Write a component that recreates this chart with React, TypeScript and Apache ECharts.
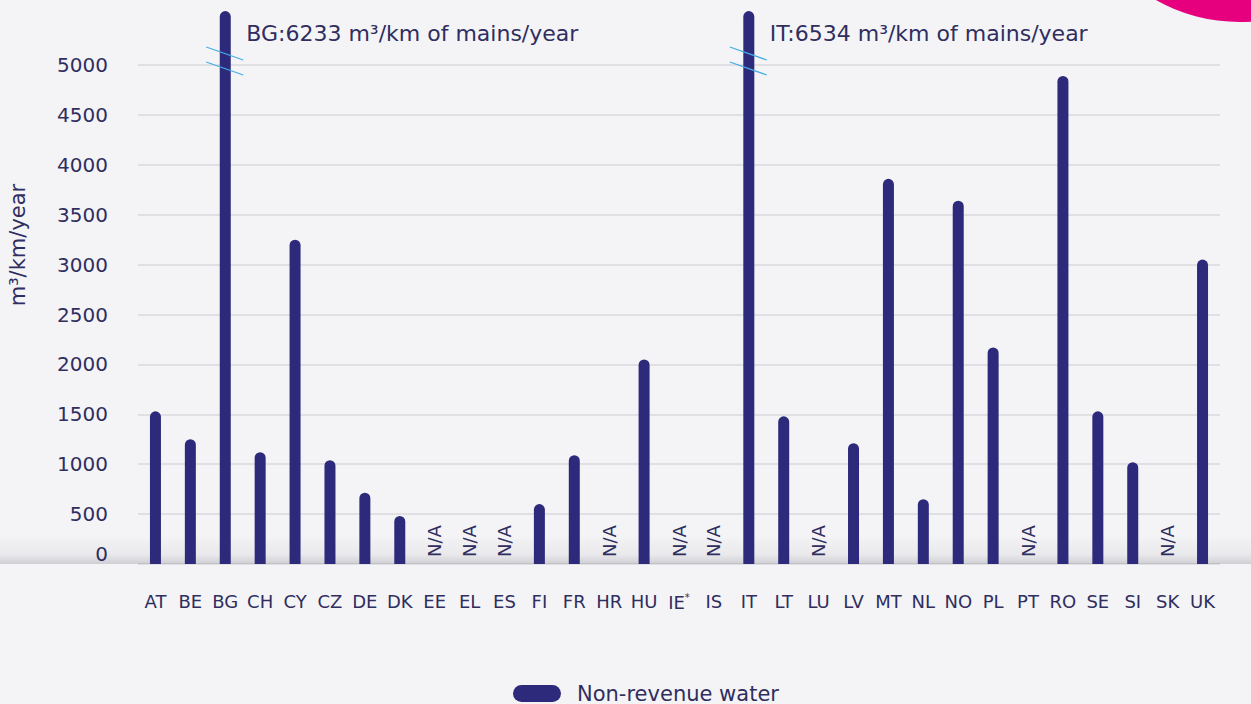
import React, { useEffect, useRef } from 'react';
import * as echarts from 'echarts';

const categories = ['AT', 'BE', 'BG', 'CH', 'CY', 'CZ', 'DE', 'DK', 'EE', 'EL', 'ES', 'FI', 'FR', 'HR', 'HU', 'IE*', 'IS', 'IT', 'LT', 'LU', 'LV', 'MT', 'NL', 'NO', 'PL', 'PT', 'RO', 'SE', 'SI', 'SK', 'UK'];
const nonRevenueWater: (number | null)[] = [1530, 1250, 6233, 1120, 3250, 1040, 715, 482, null, null, null, 600, 1090, null, 2050, null, null, 6534, 1480, null, 1210, 3860, 650, 3640, 2170, null, 4890, 1530, 1020, null, 3050];
const yTicks = [0, 500, 1000, 1500, 2000, 2500, 3000, 3500, 4000, 4500, 5000];
const brokenBars = ['BG', 'IT'];
const axisMax = 5000;
const displayCap = 5540;

const FONT = 'DejaVu Sans';
const TEXT = '#2f2e5e';
const BAR = '#2d2a7b';
const BG = '#f4f4f7';

export default function App() {
  const ref = useRef<HTMLDivElement>(null);
  useEffect(() => {
    if (!ref.current) return;
    const chart = echarts.init(ref.current, null, { renderer: 'svg' });
    const seriesData = nonRevenueWater.map((v) =>
      v == null
        ? {
            value: 0,
            label: {
              show: true,
              formatter: 'N/A',
              position: 'insideBottom',
              rotate: 90,
              align: 'left',
              verticalAlign: 'middle',
              distance: 7,
              color: TEXT,
              fontSize: 18,
              fontFamily: FONT,
            },
          }
        : { value: Math.min(v, displayCap), realValue: v }
    );
    const option: any = {
      animation: false,
      backgroundColor: BG,
      grid: { left: 138, right: 31, top: 65, bottom: 140 },
      legend: {
        left: 513,
        top: 683,
        padding: 0,
        itemWidth: 48,
        itemHeight: 17,
        icon: 'path://M8.5,0 H39.5 A8.5,8.5 0 0 1 39.5,17 H8.5 A8.5,8.5 0 0 1 8.5,0 Z',
        textStyle: { color: TEXT, fontSize: 21, fontFamily: FONT, padding: [0, 0, 0, 11] },
        data: ['Non-revenue water'],
      },
      xAxis: {
        type: 'category',
        data: categories,
        axisLine: { show: false },
        axisTick: { show: false },
        axisLabel: {
          interval: 0,
          margin: 28,
          color: TEXT,
          fontSize: 18,
          fontFamily: FONT,
          formatter: (v: string) => (v.endsWith('*') ? v.slice(0, -1) + '{sup|*}' : v),
          rich: {
            sup: { fontSize: 10, color: TEXT, fontFamily: FONT, verticalAlign: 'top', padding: [0, 0, 10, 0] },
          },
        },
      },
      yAxis: {
        type: 'value',
        min: 0,
        max: axisMax,
        interval: 500,
        axisLine: { show: false },
        axisTick: { show: false },
        axisLabel: {
          margin: 30,
          color: TEXT,
          fontSize: 20,
          fontFamily: FONT,
          formatter: (v: number) => (yTicks.includes(v) ? (v === 0 ? '{z|0}' : String(v)) : ''),
          rich: { z: { fontSize: 20, color: TEXT, fontFamily: FONT, padding: [0, 0, 20, 0] } },
        },
        splitLine: { show: true, lineStyle: { color: '#d8d8de', width: 1.5 } },
      },
      series: [
        {
          name: 'Non-revenue water',
          type: 'bar',
          data: seriesData,
          barWidth: 11,
          clip: false,
          z: 3,
          itemStyle: { color: BAR, borderRadius: [6, 6, 0, 0] },
        },
      ],
    };
    chart.setOption(option);

    const y5000 = chart.convertToPixel({ yAxisIndex: 0 }, axisMax) as number;
    const y0 = chart.convertToPixel({ yAxisIndex: 0 }, 0) as number;
    const graphics: any[] = [
      {
        type: 'circle',
        id: 'corner',
        shape: { cx: 1240, cy: -150, r: 172 },
        style: { fill: '#e6007e' },
        z: 0,
      },
      {
        type: 'rect',
        id: 'shadow',
        shape: { x: 0, y: y0 - 27, width: 1251, height: 27 },
        style: {
          fill: new echarts.graphic.LinearGradient(0, 0, 0, 1, [
            { offset: 0, color: 'rgba(90,90,100,0)' },
            { offset: 0.1, color: 'rgba(90,90,100,0.02)' },
            { offset: 0.65, color: 'rgba(90,90,100,0.07)' },
            { offset: 1, color: 'rgba(90,90,100,0.24)' },
          ]),
        },
        z: 0,
      },
      {
        type: 'text',
        id: 'yname',
        x: 18,
        y: 245,
        rotation: Math.PI / 2,
        style: { text: 'm³/km/year', fill: TEXT, fontSize: 21, fontFamily: FONT, align: 'center', verticalAlign: 'middle' },
        z: 5,
      },
    ];
    brokenBars.forEach((cat) => {
      const idx = categories.indexOf(cat);
      const real = nonRevenueWater[idx];
      const x = chart.convertToPixel({ xAxisIndex: 0 }, cat) as number;
      [0, 15].forEach((dy, k) => {
        graphics.push({
          type: 'line',
          id: `brk-${cat}-${k}`,
          shape: { x1: x - 19, y1: y5000 - 18 + dy, x2: x + 18, y2: y5000 - 5 + dy },
          style: { stroke: '#45aee6', lineWidth: 1.3 },
          z: 10,
        });
      });
      graphics.push({
        type: 'text',
        id: `note-${cat}`,
        x: x + 21,
        y: 33,
        style: {
          text: `${cat}:${real} m³/km of mains/year`,
          fill: TEXT,
          fontSize: 22,
          fontFamily: FONT,
          align: 'left',
          verticalAlign: 'middle',
        },
        z: 10,
      });
    });
    chart.setOption({ graphic: graphics });
    return () => chart.dispose();
  }, []);
  return (
    <div
      ref={ref}
      style={{ position: 'absolute', left: 0, top: 0, width: 1251, height: 704, background: BG }}
    />
  );
}
